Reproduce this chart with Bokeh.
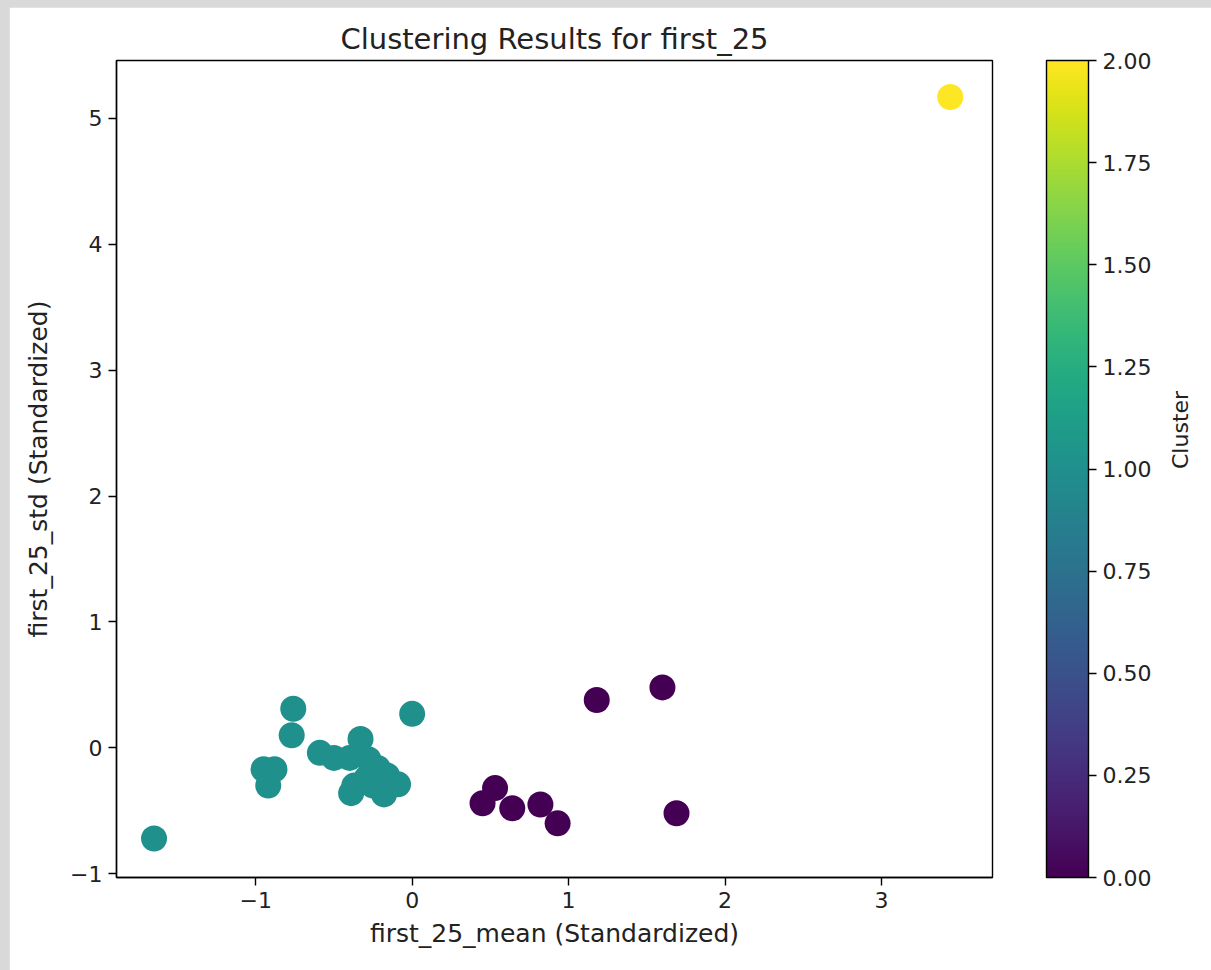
import numpy as np
from bokeh.plotting import figure
from bokeh.models import (ColumnDataSource, LinearColorMapper, ColorBar, FixedTicker,
                          PrintfTickFormatter, Range1d, LinearAxis)
from bokeh.palettes import Viridis256
from bokeh.layouts import column
from bokeh.embed import file_html
from bokeh.resources import INLINE

# ---- data ----
mean_c1 = [-1.65, -0.76, -0.77, 0.00, -0.95, -0.88, -0.92, -0.59, -0.50, -0.40,
           -0.33, -0.28, -0.22, -0.16, -0.37, -0.39, -0.25, -0.18, -0.09, -0.29]
std_c1 = [-0.72, 0.31, 0.10, 0.27, -0.17, -0.17, -0.30, -0.04, -0.08, -0.08,
          0.07, -0.09, -0.16, -0.22, -0.30, -0.36, -0.30, -0.37, -0.29, -0.24]
mean_c0 = [1.18, 1.60, 0.53, 0.45, 0.64, 0.82, 0.93, 1.69]
std_c0 = [0.38, 0.48, -0.32, -0.44, -0.48, -0.45, -0.60, -0.52]
mean_c2 = [3.44]
std_c2 = [5.17]

x_ticks = [-1, 0, 1, 2, 3]
y_ticks = [-1, 0, 1, 2, 3, 4, 5]
cb_ticks = [0.0, 0.25, 0.5, 0.75, 1.0, 1.25, 1.5, 1.75, 2.0]

xs = mean_c0 + mean_c1 + mean_c2
ys = std_c0 + std_c1 + std_c2
cl = [0] * len(mean_c0) + [1] * len(mean_c1) + [2] * len(mean_c2)
src = ColumnDataSource(dict(x=xs, y=ys, cluster=cl))

FONT = "DejaVu Sans"
TICK = "22px"
TXT = "#222222"

mapper = LinearColorMapper(palette=Viridis256, low=0, high=2)

p = figure(width=1202, height=963, output_backend="svg", toolbar_location=None,
           x_range=Range1d(-1.89, 3.71), y_range=Range1d(-1.03, 5.46),
           min_border_left=107, min_border_top=53, min_border_bottom=93,
           min_border_right=219)

p.scatter("x", "y", source=src, size=26,
          fill_color={"field": "cluster", "transform": mapper}, line_color=None)

p.title.text = "Clustering Results for first_25"
p.title.text_font = FONT
p.title.text_font_size = "29px"
p.title.text_font_style = "normal"
p.title.align = "center"
p.title.text_color = TXT

p.xgrid.visible = False
p.ygrid.visible = False
p.outline_line_color = "black"
p.outline_line_width = 1.4
p.background_fill_color = "white"
p.border_fill_color = "white"

for ax, lab, ticks in ((p.xaxis[0], "first_25_mean (Standardized)", x_ticks),
                       (p.yaxis[0], "first_25_std (Standardized)", y_ticks)):
    ax.ticker = FixedTicker(ticks=ticks)
    ax.major_label_overrides = {t: ("\u2212" + str(-t) if t < 0 else str(t)) for t in ticks}
    ax.axis_label = lab
    ax.axis_label_text_font = FONT
    ax.axis_label_text_font_size = "25px"
    ax.axis_label_text_font_style = "normal"
    ax.axis_label_text_color = TXT
    ax.major_label_text_font = FONT
    ax.major_label_text_font_size = TICK
    ax.major_label_text_color = TXT
    ax.major_tick_in = 0
    ax.major_tick_out = 8
    ax.major_tick_line_width = 1.4
    ax.minor_tick_line_color = None
    ax.axis_line_width = 1.4
    ax.major_label_standoff = 6

p.xaxis[0].axis_label_standoff = 8
p.yaxis[0].axis_label_standoff = 14

# frame is 876 x 817 px; colour bar sits 54 px right of the frame
cb = ColorBar(color_mapper=mapper, width=42, height=817, location=(930, 0),
              ticker=FixedTicker(ticks=cb_ticks),
              formatter=PrintfTickFormatter(format="%.2f"),
              major_label_text_font=FONT, major_label_text_font_size=TICK,
              major_label_text_color=TXT,
              major_tick_line_color="black", major_tick_in=0, major_tick_out=8,
              major_tick_line_width=1.4, minor_tick_line_color=None,
              bar_line_color="black", bar_line_width=1.4,
              label_standoff=6, margin=0, padding=0,
              background_fill_color=None, border_line_color=None)
p.add_layout(cb, "center")

# invisible right axis that only carries the colour bar's label
# (bounds shifted so the rotated label is centred on the bar)
rax = LinearAxis(ticker=FixedTicker(ticks=[]), axis_line_color=None,
                 major_tick_line_color=None, minor_tick_line_color=None,
                 major_label_text_color=None, bounds=(-1.03, 4.81),
                 axis_label="Cluster", axis_label_text_font=FONT,
                 axis_label_text_font_size="22px", axis_label_text_font_style="normal",
                 axis_label_text_color=TXT, axis_label_standoff=188,
                 axis_label_orientation=np.pi / 2)
p.add_layout(rax, "right")

layout = column(p, styles={"background-color": "#d9d9d9", "padding": "7px 0px 0px 9px"})

open("out.html", "w").write(file_html(layout, INLINE))
